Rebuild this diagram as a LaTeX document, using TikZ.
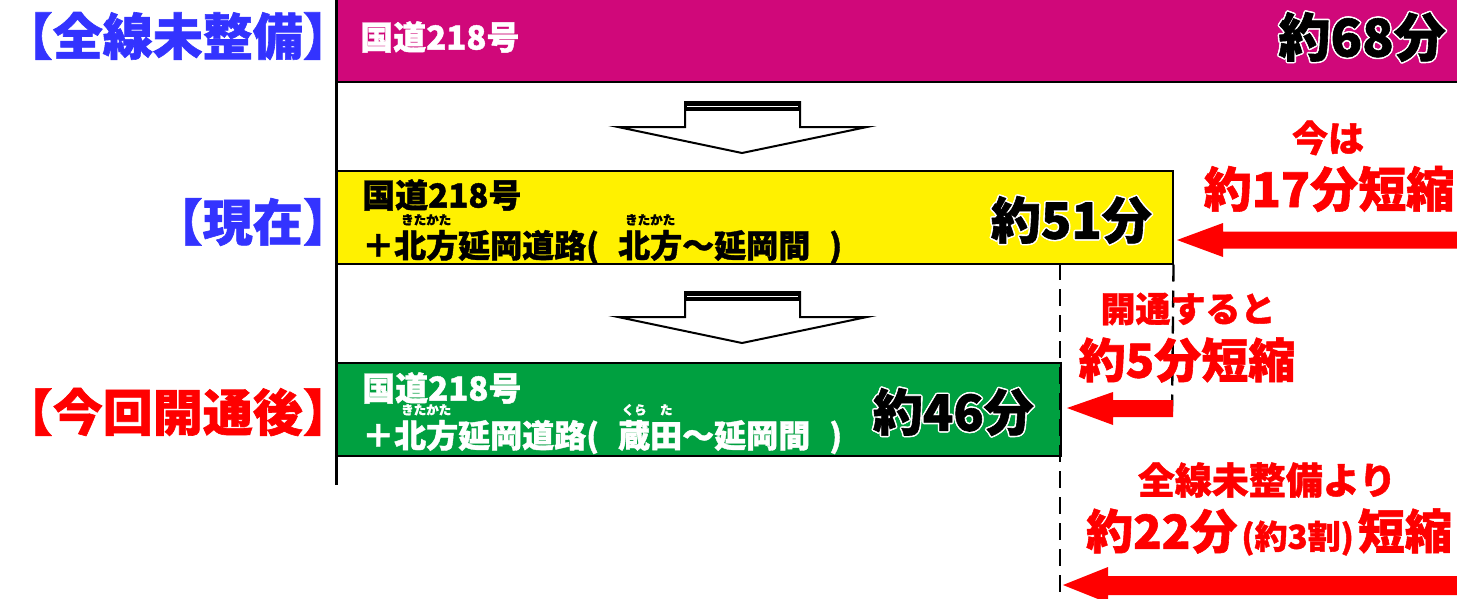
\documentclass[tikz,border=0pt]{standalone}
\usepackage{fontspec}
\newfontfamily\jp[BoldFeatures={FakeBold=1.2}]{Noto Sans CJK JP}
\definecolor{cMag}{RGB}{208,8,122}
\definecolor{cYel}{RGB}{255,241,0}
\definecolor{cGrn}{RGB}{0,160,64}
\definecolor{cBlu}{RGB}{51,51,255}
\definecolor{cRed}{RGB}{255,0,0}
\newcommand\fs[1]{\jp\bfseries\fontsize{#1}{#1}\selectfont}
\newcommand\rb[2]{\setbox0=\hbox{#1}\setbox2=\hbox{\fontsize{12.5}{12.5}\selectfont#2}\hbox to \wd0{\hss\raisebox{33pt}[0pt][0pt]{\box2}\hss}\kern-\wd0\box0}
\newcommand\lp{\makebox[1em][l]{(}}
\newcommand\rp{\makebox[1em][r]{)}}
\newcommand\rbk{\makebox[0.36em][l]{】}}
\tikzset{
  boxst/.style={draw=black,line width=1.5pt,anchor=north west,inner sep=0pt},
  rowtxt/.style={inner sep=0pt,anchor=west,font=\fs{32},align=left},
  rowhead/.style={rowtxt,font=\fs{33}},
  numtxt/.style={inner sep=0pt,anchor=east,font=\fs{50}},
  leftlab/.style={inner sep=0pt,anchor=east,font=\fs{50}},
  redtxt/.style={inner sep=0pt,text=cRed},
  dashline/.style={line width=2.3pt,dash pattern=on 17pt off 9pt},
  hollow/.style={draw=black,line width=2pt,fill=white,line join=miter}
}
\newcommand\outlined[4]{% name, position, text, size
  \foreach \dx/\dy in {-1.6/0,1.6/0,0/-1.6,0/1.6,-1.1/-1.1,1.1/1.1,-1.1/1.1,1.1/-1.1}
    {\node[numtxt,font=\fs{#4},text=white,xshift=\dx pt,yshift=\dy pt] at #2 {#3};}
  \node[numtxt,font=\fs{#4},text=black] (#1) at #2 {#3};}
\newcommand\hollowarrow[2]{% name, y offset
  \begin{scope}[yshift=-#2pt]
  \draw[hollow] (685,102) -- (685,127) -- (618,127) -- (742,153) -- (867,127) -- (800,127) -- (800,102) -- cycle;
  \fill[black] (684,101) rectangle (801,111);
  \draw[white,line width=1pt] (687,106.5) -- (798,106.5);
  \coordinate (#1) at (742,153);
  \end{scope}}
\begin{document}
\begin{tikzpicture}[x=1pt,y=-1pt]
\useasboundingbox (0,0) rectangle (1457,598);
% bars
\node[anchor=north west,inner sep=0pt,fill=cMag,minimum width=1121pt,minimum height=82pt] (bar0) at (336,0) {};
\draw[line width=2pt] (bar0.south west) -- (bar0.south east);
\node[boxst,fill=cYel,minimum width=836pt,minimum height=93pt] (bar1) at (336,170) {};
\node[boxst,fill=cGrn,minimum width=724pt,minimum height=93pt] (bar2) at (336,362) {};
% axis
\coordinate (axend) at (336,485);
\draw[line width=3pt] (bar0.north west) -- (axend);
% hollow arrows
\hollowarrow{da1}{0}
\hollowarrow{da2}{190}
% dashed lines
\coordinate (d1top) at (1060,263);
\coordinate (d1bot) at (1060,598);
\coordinate (d2bot) at (1172,415);
\draw[dashline] (d1top) -- (d1bot);
\draw[dashline] (bar1.south east) -- (d2bot);
% bar texts
\node[rowhead,text=white] (t0) at (360,37) {国道218号};
\outlined{n0}{(1446,37)}{約68分}{52}
\node[rowhead,text=black] (t1a) at (362,195) {国道218号};
\node[rowtxt,text=black] (t1b) at (362,247) {＋\rb{北方}{きたかた}延岡道路\lp\rb{北方}{きたかた}～延岡間\rp};
\outlined{n1}{(1152,220)}{約51分}{50}
\node[rowhead,text=white] (t2a) at (362,388) {国道218号};
\node[rowtxt,text=white] (t2b) at (362,437) {＋\rb{北方}{きたかた}延岡道路\lp\rb{蔵}{くら}\rb{田}{た}～延岡間\rp};
\outlined{n2}{(1034,412)}{約46分}{50}
% left labels
\node[leftlab,text=cBlu] (l0) at (321,36) {【全線未整備\rbk};
\node[leftlab,text=cBlu] (l1) at (321,222) {【現在\rbk};
\node[leftlab,text=cRed] (l2) at (321,412) {【今回開通後\rbk};
% red arrows
\fill[cRed] (1177,240) -- (1223,223) -- (1223,231.5) -- (1457,231.5) -- (1457,248.5) -- (1223,248.5) -- (1223,257) -- cycle;
\coordinate (ra1) at (1177,240);
\fill[cRed] (1067,408) -- (1113,392) -- (1113,400) -- (1173,400) -- (1173,417) -- (1113,417) -- (1113,425) -- cycle;
\fill[cRed] (1063,585) -- (1108,567) -- (1108,576) -- (1457,576) -- (1457,595) -- (1108,595) -- (1108,603) -- cycle;
% red texts
\node[redtxt,font=\fs{36}] (r1) at (1328,138) {今は};
\node[redtxt,font=\fs{48}] (r2) at (1329,189) {約17分短縮};
\node[redtxt,font=\fs{35}] (r3) at (1188,309) {開通すると};
\node[redtxt,font=\fs{47}] (r4) at (1187,360) {約5分短縮};
\node[redtxt,font=\fs{37}] (r5) at (1267,480) {全線未整備より};
\node[redtxt,font=\fs{47}] (r6) at (1269,532) {約22分\hspace{4pt}{\fontsize{33}{33}\selectfont(約3割)}\hspace{4pt}短縮};
\end{tikzpicture}
\end{document}
